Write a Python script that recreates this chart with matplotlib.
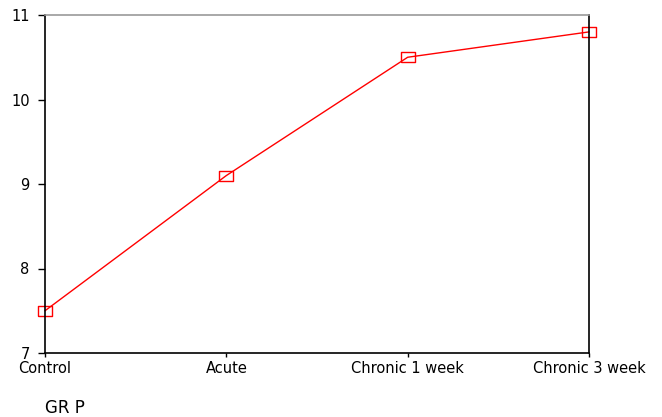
import matplotlib
matplotlib.use("Agg")
import matplotlib.pyplot as plt

plt.rcParams['font.family'] = ['DejaVu Sans']

groups = ["Control", "Acute", "Chronic 1 week", "Chronic 3 week"]
means = [7.5, 9.1, 10.5, 10.8]
y_ticks = [7, 8, 9, 10, 11]

fig = plt.figure(figsize=(6.62, 4.17), dpi=100)
ax = fig.add_axes([45 / 662, 64 / 417, 544 / 662, 338 / 417])

# slightly wide open rectangle marker, like the original
rect = [(-1.4, -1), (1.4, -1), (1.4, 1), (-1.4, 1), (-1.4, -1)]

x = list(range(len(groups)))
ax.plot(x, means, color="red", linewidth=1, marker=rect, markersize=10,
        markerfacecolor="none", markeredgecolor="red", markeredgewidth=1,
        clip_on=False)

ax.set_xlim(0, len(groups) - 1)
ax.set_ylim(7, 11)
ax.set_xticks(x)
ax.set_xticklabels(groups)
ax.set_yticks(y_ticks)

for side in ["left", "bottom", "right"]:
    ax.spines[side].set_color("black")
    ax.spines[side].set_linewidth(1.2)
ax.spines["top"].set_color("#999999")
ax.spines["top"].set_linewidth(1.2)

ax.tick_params(axis="y", direction="out", length=5, width=1, labelsize=10.5, pad=6)
ax.tick_params(axis="x", direction="out", length=3, width=1, labelsize=10.5, pad=3)

fig.text(45 / 662, 1 - 408 / 417, "GR P", fontsize=12, va="center", ha="left")

fig.savefig("out.png", dpi=100)
